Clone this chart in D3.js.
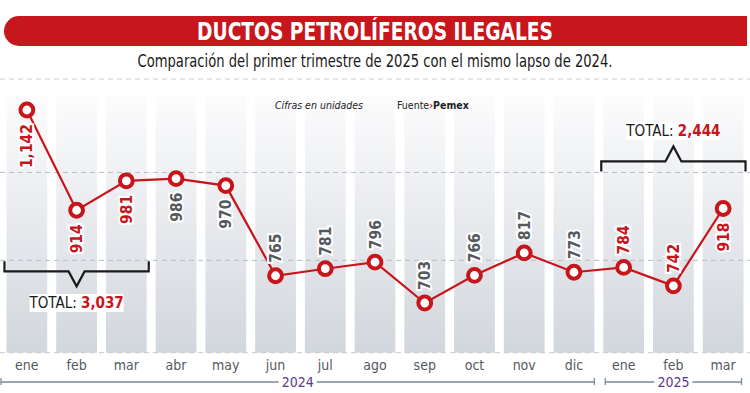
<!DOCTYPE html>
<html>
<head>
    <meta charset="utf-8">
    <title>Ductos petrolíferos ilegales</title>
    <script src="https://cdnjs.cloudflare.com/ajax/libs/d3/7.8.5/d3.min.js"></script>
    <style>
        body { margin: 0; background: #fff; }
        text { font-family: "DejaVu Sans Condensed", sans-serif; }
        .val { font-weight: bold; }
    </style>
</head>
<body>
    <div id="vis"></div>

    <script>
        // datos
        var months = ["ene", "feb", "mar", "abr", "may", "jun", "jul", "ago", "sep", "oct", "nov", "dic", "ene", "feb", "mar"];
        var values = [1142, 914, 981, 986, 970, 765, 781, 796, 703, 766, 817, 773, 784, 742, 918];
        var yearLabels = ["2024", "2025"];
        var yearStart = [0, 12];   // indice del primer mes de cada año
        var yearEnd = [11, 14];
        var gridTicks = [800, 1000];

        var W = 750, H = 393;
        var red = "#c8141b", gray = "#55595e";

        var vis = d3.select("#vis").append("svg")
            .attr("width", W)
            .attr("height", H);

        var defs = vis.append("defs");
        var grad = defs.append("linearGradient")
            .attr("id", "colGrad")
            .attr("x1", 0).attr("y1", 0).attr("x2", 0).attr("y2", 1);
        grad.append("stop").attr("offset", "0%").attr("stop-color", "#fcfcfd");
        grad.append("stop").attr("offset", "100%").attr("stop-color", "#d2d7dd");

        var x = d3.scaleBand()
            .domain(d3.range(months.length))
            .range([2, 748])
            .paddingInner(0.18)
            .paddingOuter(0.09);

        var y = d3.scaleLinear()
            .domain([600, 1200])
            .range([348.3, 84.5]);

        var cx = function(i) { return x(i) + x.bandwidth() / 2; };
        var barTop = y(1175), barBottom = y(590);

        // columnas de fondo
        vis.append("g").selectAll("rect")
            .data(months)
            .enter().append("rect")
            .attr("x", function(d, i) { return x(i); })
            .attr("y", barTop)
            .attr("width", x.bandwidth())
            .attr("height", barBottom - barTop)
            .style("fill", "url(#colGrad)");

        // lineas punteadas
        vis.append("g").selectAll("line")
            .data(gridTicks)
            .enter().append("line")
            .attr("x1", 0).attr("x2", W)
            .attr("y1", function(d) { return y(d); })
            .attr("y2", function(d) { return y(d); })
            .style("stroke", "#babec3")
            .style("stroke-dasharray", "5,4");

        vis.append("line")
            .attr("x1", 0).attr("x2", W)
            .attr("y1", barBottom).attr("y2", barBottom)
            .style("stroke", "#c6cacf")
            .style("stroke-dasharray", "5,4");

        vis.append("line")
            .attr("x1", 0).attr("x2", W)
            .attr("y1", 79).attr("y2", 79)
            .style("stroke", "#c6cacf")
            .style("stroke-dasharray", "5,4");

        // titulo
        vis.append("path")
            .attr("d", "M19,16 H747 V46 H19 A15,15 0 0 1 19,16 Z")
            .style("fill", "#c8161d");

        vis.append("text")
            .attr("x", 375).attr("y", 40)
            .attr("text-anchor", "middle")
            .attr("textLength", 356)
            .attr("lengthAdjust", "spacingAndGlyphs")
            .style("font-weight", "bold")
            .style("font-size", "24px")
            .style("fill", "#fff")
            .text("DUCTOS PETROLÍFEROS ILEGALES");

        vis.append("text")
            .attr("x", 375).attr("y", 67)
            .attr("text-anchor", "middle")
            .attr("textLength", 475)
            .attr("lengthAdjust", "spacingAndGlyphs")
            .style("font-size", "17px")
            .style("fill", "#1a1a1a")
            .text("Comparación del primer trimestre de 2025 con el mismo lapso de 2024.");

        vis.append("text")
            .attr("x", 319).attr("y", 109)
            .attr("text-anchor", "middle")
            .style("font-size", "10.5px")
            .style("font-style", "italic")
            .style("fill", "#222")
            .text("Cifras en unidades");

        var src = vis.append("text")
            .attr("x", 397).attr("y", 109)
            .style("font-size", "10.5px")
            .style("fill", "#222");
        src.append("tspan").text("Fuente");
        src.append("tspan").style("fill", red).style("font-weight", "bold").text("\u203A");
        src.append("tspan").style("font-weight", "bold").text("Pemex");

        // linea
        var line = d3.line()
            .x(function(d, i) { return cx(i); })
            .y(function(d) { return y(d); });

        vis.append("path")
            .datum(values)
            .attr("d", line)
            .style("fill", "none")
            .style("stroke", red)
            .style("stroke-width", 2.2);

        vis.append("g").selectAll("circle")
            .data(values)
            .enter().append("circle")
            .attr("cx", function(d, i) { return cx(i); })
            .attr("cy", function(d) { return y(d); })
            .attr("r", 6.4)
            .style("fill", "#fff")
            .style("stroke", red)
            .style("stroke-width", 4);

        // etiquetas verticales
        var fmt = d3.format(",");
        var isQ1 = function(i) { return (i % 12) < 3; };

        vis.append("g").selectAll("text")
            .data(values)
            .enter().append("text")
            .attr("class", "val")
            .attr("transform", function(d, i) {
                var off = d > 850 ? 14 : -13;
                return "translate(" + cx(i) + "," + (y(d) + off) + ") rotate(-90)";
            })
            .attr("dy", "0.36em")
            .attr("text-anchor", function(d) { return d > 850 ? "end" : "start"; })
            .style("font-size", "15.5px")
            .style("fill", function(d, i) { return isQ1(i) ? red : gray; })
            .style("stroke", "#fff")
            .style("stroke-width", 4)
            .style("paint-order", "stroke")
            .text(function(d) { return fmt(d); });

        // meses
        vis.append("g").selectAll("text")
            .data(months)
            .enter().append("text")
            .attr("x", function(d, i) { return cx(i); })
            .attr("y", 370)
            .attr("text-anchor", "middle")
            .style("font-size", "14px")
            .style("fill", gray)
            .text(function(d) { return d; });

        // eje de años
        var axisY = 382;
        yearLabels.forEach(function(lab, k) {
            var x0 = k == 0 ? 1 : x(yearStart[k]) + 2;
            var x1 = x(yearEnd[k]) + x.bandwidth() + (k == 0 ? 0 : -2);
            var g = vis.append("g");
            g.append("line").attr("x1", x0).attr("x2", x1).attr("y1", axisY).attr("y2", axisY);
            g.append("line").attr("x1", x0).attr("x2", x0).attr("y1", axisY - 4).attr("y2", axisY + 3);
            g.append("line").attr("x1", x1).attr("x2", x1).attr("y1", axisY - 4).attr("y2", axisY + 3);
            g.selectAll("line").style("stroke", "#7d8a98").style("stroke-width", 1.3);
            var mid = (x0 + x1) / 2;
            g.append("rect").attr("x", mid - 19).attr("y", axisY - 7).attr("width", 38).attr("height", 14).style("fill", "#fff");
            g.append("text")
                .attr("x", mid).attr("y", axisY + 5)
                .attr("text-anchor", "middle")
                .style("font-size", "14px")
                .style("fill", "#5a3a8a")
                .text(lab);
        });

        // totales por trimestre
        function bracket(i0, i2, yLine, dir, labelY) {
            var total = d3.sum(values.slice(i0, i2 + 1));
            var x0 = x(i0) - 2, x1 = x(i2) + x.bandwidth() + 2;
            var mid = (cx(i0) + cx(i2)) / 2;
            var d = "M" + x0 + "," + (yLine - dir * 10) + " V" + yLine +
                " H" + (mid - 8) + " L" + mid + "," + (yLine + dir * 15) +
                " L" + (mid + 8) + "," + yLine + " H" + x1 + " V" + (yLine - dir * 10);
            vis.append("path")
                .attr("d", d)
                .style("fill", "none")
                .style("stroke", "#1a1a1a")
                .style("stroke-width", 2.2);
            vis.append("rect")
                .attr("x", mid - 47).attr("y", labelY - 14)
                .attr("width", 94).attr("height", 18)
                .style("fill", "#fff");
            var t = vis.append("text")
                .attr("x", mid).attr("y", labelY)
                .attr("text-anchor", "middle")
                .style("font-size", "15px")
                .style("fill", "#1a1a1a");
            t.append("tspan").text("TOTAL: ");
            t.append("tspan").style("fill", red).style("font-weight", "bold").text(fmt(total));
        }

        bracket(0, 2, y(775), 1, 308);
        bracket(12, 14, y(1025), -1, 136);
    </script>
</body>
</html>
